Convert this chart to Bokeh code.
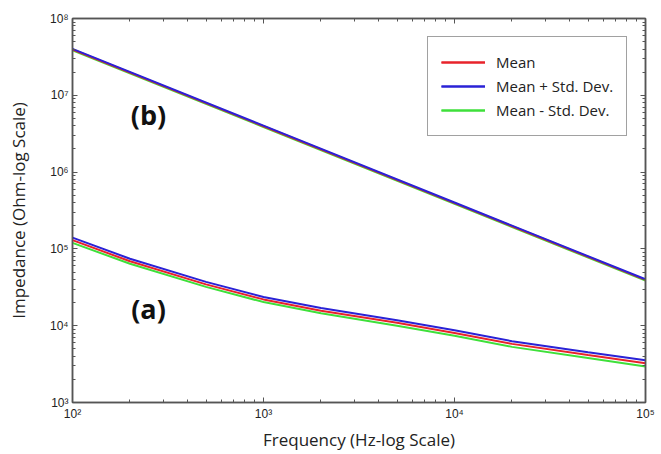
import numpy as np
from bokeh.plotting import figure
from bokeh.models import LogAxis, Legend, LegendItem, Label, CustomJSTickFormatter, FixedTicker
from bokeh.embed import file_html
from bokeh.resources import INLINE

# ---- data ----
freq_a = [100, 200, 500, 1000, 2000, 5000, 10000, 20000, 50000, 100000]
plus_a = [1.40e5, 7.45e4, 3.72e4, 2.37e4, 1.70e4, 1.18e4, 8.75e3, 6.28e3, 4.51e3, 3.55e3]
mean_a = [1.30e5, 6.90e4, 3.45e4, 2.20e4, 1.57e4, 1.09e4, 8.05e3, 5.80e3, 4.15e3, 3.25e3]
minus_a = [1.20e5, 6.40e4, 3.20e4, 2.03e4, 1.45e4, 1.00e4, 7.40e3, 5.30e3, 3.80e3, 2.95e3]

freq_b = [100, 1000, 10000, 100000]
plus_b = [4.02e7, 4.02e6, 4.02e5, 4.02e4]
mean_b = [3.95e7, 3.95e6, 3.95e5, 3.95e4]
minus_b = [3.86e7, 3.86e6, 3.86e5, 3.86e4]

x_decades = [2, 3, 4, 5]
y_decades = [3, 4, 5, 6, 7, 8]

FONT = "Open Sans"
AXC = "#555555"

p = figure(width=661, height=454, x_axis_type="log", y_axis_type="log",
           x_range=(1e2, 1e5), y_range=(1e3, 1e8),
           output_backend="svg", toolbar_location=None,
           min_border_left=72, min_border_top=18, min_border_right=16, min_border_bottom=52)
p.xgrid.visible = False
p.ygrid.visible = False
p.outline_line_color = AXC
p.outline_line_width = 1.5
p.background_fill_color = "white"
p.border_fill_color = "white"

def ticker(decs):
    major = [10.0 ** d for d in decs]
    minor = [k * 10.0 ** d for d in decs[:-1] for k in range(2, 10)]
    return FixedTicker(ticks=major, minor_ticks=minor)

fmt = CustomJSTickFormatter(code="""
const sup = {"0":"\\u2070","1":"\\u00b9","2":"\\u00b2","3":"\\u00b3","4":"\\u2074","5":"\\u2075","6":"\\u2076","7":"\\u2077","8":"\\u2078","9":"\\u2079","-":"\\u207b"};
const e = Math.round(Math.log10(tick));
return "10" + String(e).split("").map(c => sup[c]).join("");
""")

def style(ax, decs, labels=True):
    ax.ticker = ticker(decs)
    ax.axis_line_color = AXC
    ax.axis_line_width = 1.5
    ax.major_tick_in = 5
    ax.major_tick_out = 0
    ax.minor_tick_in = 3
    ax.minor_tick_out = 0
    ax.major_tick_line_color = AXC
    ax.minor_tick_line_color = AXC
    if labels:
        ax.formatter = fmt
        ax.major_label_text_font = "Liberation Sans"
        ax.major_label_text_font_size = "12px"
        ax.major_label_text_color = "#222222"
        ax.axis_label_text_font = FONT
        ax.axis_label_text_font_size = "17px"
        ax.axis_label_text_font_style = "normal"
        ax.axis_label_text_color = "#222222"
    else:
        ax.major_label_text_font_size = "2px"
        ax.major_label_text_alpha = 0
        ax.major_label_standoff = 0

style(p.xaxis[0], x_decades)
style(p.yaxis[0], y_decades)
p.xaxis[0].axis_label = "Frequency (Hz-log Scale)"
p.yaxis[0].axis_label = "Impedance (Ohm-log Scale)"
p.xaxis[0].major_label_standoff = 4
p.xaxis[0].axis_label_standoff = 4
p.yaxis[0].major_label_standoff = 4
p.yaxis[0].axis_label_standoff = 17

top_ax = LogAxis()
style(top_ax, x_decades, labels=False)
p.add_layout(top_ax, "above")
right_ax = LogAxis()
style(right_ax, y_decades, labels=False)
p.add_layout(right_ax, "right")

RED, BLUE, GREEN = "#e8232b", "#2a22d6", "#3ee03a"
LW = 2

g1 = p.line(freq_a, minus_a, line_color=GREEN, line_width=LW)
g2 = p.line(freq_b, minus_b, line_color=GREEN, line_width=LW)
r1 = p.line(freq_a, mean_a, line_color=RED, line_width=LW)
r2 = p.line(freq_b, mean_b, line_color=RED, line_width=LW)
b1 = p.line(freq_a, plus_a, line_color=BLUE, line_width=LW)
b2 = p.line(freq_b, plus_b, line_color=BLUE, line_width=LW)

legend = Legend(items=[
    LegendItem(label="Mean", renderers=[r1, r2]),
    LegendItem(label="Mean + Std. Dev.", renderers=[b1, b2]),
    LegendItem(label="Mean - Std. Dev.", renderers=[g1, g2]),
], location=(355, 266))
legend.border_line_color = "#444444"
legend.border_line_width = 1
legend.label_text_font = FONT
legend.label_text_font_size = "15px"
legend.label_text_color = "#222222"
legend.glyph_width = 44
legend.glyph_height = 24
legend.label_height = 24
legend.label_standoff = 11
legend.padding = 13
legend.spacing = 0
legend.margin = 0
p.add_layout(legend, "center")

for txt, xv, yv in [("(b)", 250, 5.7e6), ("(a)", 250, 1.7e4)]:
    p.add_layout(Label(x=xv, y=yv, text=txt, text_font=FONT, text_font_size="27px",
                       text_font_style="bold", text_color="#111111",
                       text_align="center", text_baseline="middle"))

open("out.html", "w").write(file_html(p, INLINE))
